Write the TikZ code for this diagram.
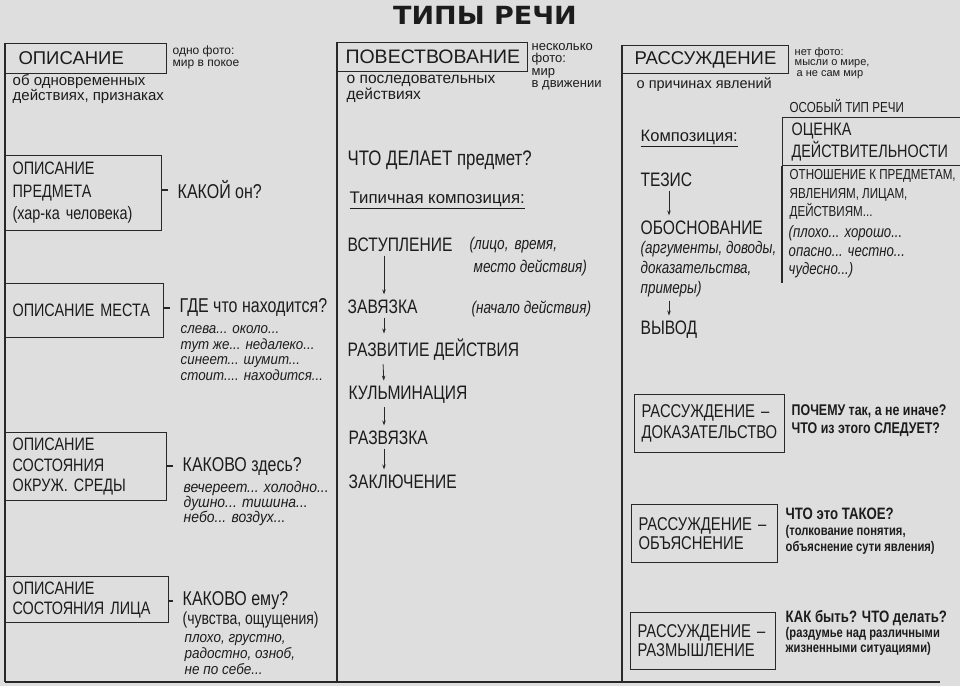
\documentclass[tikz,border=0pt]{standalone}
\usepackage{fontspec}
\setmainfont{Liberation Sans}
\newfontfamily\cnd{Liberation Sans}[FakeStretch=0.8]
\newfontfamily\cni{Liberation Sans}[FakeStretch=0.9]
\newfontfamily\ttlfont{DejaVu Sans}[FakeStretch=1.08]
\usetikzlibrary{arrows.meta,calc}
\definecolor{bg}{RGB}{222,222,222}
\definecolor{ink}{RGB}{28,28,28}
\definecolor{ln}{RGB}{40,40,40}
\begin{document}
\begin{tikzpicture}[x=1pt,y=-1pt,
  every node/.style={text=ink, inner sep=1.5pt},
  frame/.style={draw=ln, line width=1.1pt},
  hbox/.style={frame, anchor=north west, inner ysep=0pt, align=left,
    font=\fontsize{18.5}{20}\selectfont},
  sbox/.style={frame, anchor=north west, inner ysep=0pt, align=left,
    font=\cnd\fontsize{18}{22}\selectfont},
  sm/.style={anchor=west, align=left, font=\fontsize{15}{12.5}\selectfont},
  qq/.style={anchor=west, align=left, font=\cnd\fontsize{20}{21}\selectfont},
  itl/.style={anchor=west, align=left, font=\cni\itshape\fontsize{16}{15.5}\selectfont},
  step1/.style={anchor=west, font=\cnd\fontsize{19.5}{22}\selectfont},
  note/.style={anchor=west, align=left, font=\cnd\itshape\fontsize{17}{23}\selectfont},
  comp/.style={anchor=west, font=\fontsize{16.5}{18}\selectfont},
  rq/.style={anchor=west, align=left, font=\cnd\bfseries\fontsize{14}{18}\selectfont},
  arr/.style={draw=ln, line width=0.8pt, -{Stealth[length=5pt,width=3.5pt]}, shorten <=2pt, shorten >=4pt},
  solidl/.style={draw=ln, line width=1.1pt},
  dashto/.style={solidl, shorten >=8pt}
]
\fill[bg] (0,0) rectangle (960,686);
\useasboundingbox (0,0) rectangle (960,686);

% title
\node[font=\ttlfont\bfseries\fontsize{25}{26}\selectfont] (title) at (485,15) {ТИПЫ РЕЧИ};

% ---------- column 1 ----------
\node[hbox, text width=135pt, inner xsep=13pt, minimum height=30pt] (h1) at (5,43) {ОПИСАНИЕ};
\node[sm, font=\fontsize{12}{11.5}\selectfont] (t1a) at (171,57.5) {одно фото:\\мир в покое};
\node[sm] (t1b) at (11,89) {об одновременных\\действиях, признаках};

\node[sbox, text width=142pt, inner xsep=7pt, minimum height=75pt, font=\cnd\fontsize{18}{22.5}\selectfont] (A) at (5,155) {ОПИСАНИЕ\\ПРЕДМЕТА\\(хар-ка человека)};
\node[qq] (qA) at (176,190) {КАКОЙ он?};
\draw[dashto] (qA.west -| A.east) -- (qA.west);

\node[sbox, text width=144pt, inner xsep=7pt, minimum height=54pt] (B) at (5,283) {ОПИСАНИЕ МЕСТА};
\node[qq] (qB) at (178,308) {ГДЕ что находится?};
\draw[dashto] (qB.west -| B.east) -- (qB.west);
\node[itl, font=\cni\itshape\fontsize{14.8}{15.5}\selectfont] (iB) at (179,353) {слева... около...\\тут же... недалеко...\\синеет... шумит...\\стоит.... находится...};

\node[sbox, text width=147pt, inner xsep=7pt, minimum height=68pt, font=\cnd\fontsize{18}{20.5}\selectfont] (C) at (5,432) {ОПИСАНИЕ\\СОСТОЯНИЯ\\ОКРУЖ. СРЕДЫ};
\node[qq] (qC) at (181,466) {КАКОВО здесь?};
\draw[dashto] (qC.west -| C.east) -- (qC.west);
\node[itl, font=\cni\itshape\fontsize{15.5}{15}\selectfont] (iC) at (182,503) {вечереет... холодно...\\душно... тишина...\\небо... воздух...};

\node[sbox, text width=149pt, inner xsep=7pt, minimum height=46pt, font=\cnd\fontsize{18}{20}\selectfont] (D) at (5,576) {ОПИСАНИЕ\\СОСТОЯНИЯ ЛИЦА};
\node[qq] (qD) at (181,601) {КАКОВО ему?};
\draw[dashto] (qD.west -| D.east) -- (qD.west);
\node[qq, font=\cnd\fontsize{17.5}{17}\selectfont] (pD) at (181,620) {(чувства, ощущения)};
\node[itl, font=\cni\itshape\fontsize{15}{16}\selectfont] (iD) at (183,655) {плохо, грустно,\\радостно, озноб,\\не по себе...};

% ---------- column 2 ----------
\node[hbox, text width=174pt, inner xsep=8pt, minimum height=29pt, font=\fontsize{19.5}{20}\selectfont] (h2) at (337,42) {ПОВЕСТВОВАНИЕ};
\node[sm, font=\fontsize{13}{12.5}\selectfont] (t2a) at (530,67) {несколько\\фото:\\мир\\в движении};
\node[sm, font=\fontsize{15.5}{12.5}\selectfont] (t2b) at (345,89) {о последовательных\\действиях};

\node[anchor=west, font=\cnd\fontsize{21}{22}\selectfont] (m0) at (346,160) {ЧТО ДЕЛАЕТ предмет?};
\node[comp, font=\fontsize{16.8}{18}\selectfont] (m1) at (348,200) {\underline{Типичная композиция:}};
\node[step1] (m2) at (346,245) {ВСТУПЛЕНИЕ};
\node[note] (m2c) at (468,256.5) {(лицо,\hspace{6pt}время,\\\hspace*{4pt}место действия)};
\node[step1] (m3) at (346,307) {ЗАВЯЗКА};
\node[note] (m3c) at (470,309) {(начало действия)};
\node[step1] (m4) at (346,350) {РАЗВИТИЕ ДЕЙСТВИЯ};
\node[step1] (m5) at (347,395) {КУЛЬМИНАЦИЯ};
\node[step1] (m6) at (347,438) {РАЗВЯЗКА};
\node[step1] (m7) at (347,482) {ЗАКЛЮЧЕНИЕ};
\draw[arr] ([xshift=38pt]m2.south west) -- ([xshift=38pt]m3.north west);
\draw[arr] ([xshift=38pt]m3.south west) -- ([xshift=38pt]m4.north west);
\draw[arr] ([xshift=37pt]m4.south west) -- ([xshift=37pt]m5.north west);
\draw[arr] ([xshift=37pt]m5.south west) -- ([xshift=37pt]m6.north west);
\draw[arr] ([xshift=37pt]m6.south west) -- ([xshift=37pt]m7.north west);

% ---------- column 3 ----------
\node[hbox, text width=142pt, inner xsep=12pt, minimum height=28pt] (h3) at (622,45) {РАССУЖДЕНИЕ};
\node[sm, font=\fontsize{11}{10.5}\selectfont] (t3a) at (793,63) {нет фото:\\мысли о мире,\\\hspace*{2pt}а не сам мир};
\node[sm, font=\fontsize{14.5}{12}\selectfont] (t3b) at (635,85) {о причинах явлений};

\node[comp] (r0) at (639,138) {\underline{Композиция:}};
\node[step1] (r1) at (639,180) {ТЕЗИС};
\node[step1] (r2) at (639,228) {ОБОСНОВАНИЕ};
\node[note, font=\cnd\itshape\fontsize{16.8}{20}\selectfont] (r2c) at (639,269) {(аргументы, доводы,\\доказательства,\\примеры)};
\node[step1] (r3) at (639,330) {ВЫВОД};
\draw[arr] ([xshift=30pt]r1.south west) -- ([xshift=30pt]r2.north west);
\draw[arr] ([xshift=30pt]r2c.south west) -- ([xshift=30pt]r3.north west);

\node[anchor=west, font=\cnd\fontsize{14.5}{15}\selectfont] (os) at (788,106) {ОСОБЫЙ ТИП РЕЧИ};
\node[sbox, text width=162pt, inner xsep=9pt, minimum height=48pt, font=\cnd\fontsize{18}{22}\selectfont] (O) at (782,117) {ОЦЕНКА\\ДЕЙСТВИТЕЛЬНОСТИ};
\coordinate (oe) at (782,283);
\draw[solidl] (O.south west) -- (oe);
\node[anchor=west, align=left, font=\cnd\fontsize{14.5}{18.5}\selectfont] (o1) at (788,194.5) {ОТНОШЕНИЕ К ПРЕДМЕТАМ,\\ЯВЛЕНИЯМ, ЛИЦАМ,\\ДЕЙСТВИЯМ...};
\node[itl, font=\cnd\itshape\fontsize{16.5}{18.5}\selectfont] (o2) at (787,252) {(плохо... хорошо...\\опасно... честно...\\чудесно...)};

\node[sbox, text width=136pt, inner xsep=7pt, minimum height=58pt, font=\cnd\fontsize{18.5}{21}\selectfont] (P1) at (634,394) {РАССУЖДЕНИЕ –\\ДОКАЗАТЕЛЬСТВО};
\node[rq, font=\cnd\bfseries\fontsize{15.5}{18}\selectfont] (p1t) at (790,421) {ПОЧЕМУ так, а не иначе?\\ЧТО из этого СЛЕДУЕТ?};
\node[sbox, text width=132pt, inner xsep=7pt, minimum height=58pt, font=\cnd\fontsize{18.5}{19}\selectfont] (P2) at (631,504) {РАССУЖДЕНИЕ –\\ОБЪЯСНЕНИЕ};
\node[rq, font=\cnd\bfseries\fontsize{14}{16}\selectfont] (p2t) at (784,531) {{\fontsize{16.5}{16}\selectfont ЧТО это ТАКОЕ?}\\(толкование понятия,\\объяснение сути явления)};
\node[sbox, text width=131pt, inner xsep=7pt, minimum height=57pt, font=\cnd\fontsize{18.5}{19}\selectfont] (P3) at (630,612) {РАССУЖДЕНИЕ –\\РАЗМЫШЛЕНИЕ};
\node[rq, font=\cnd\bfseries\fontsize{14}{15}\selectfont] (p3t) at (784,633) {{\fontsize{16.5}{15}\selectfont КАК быть? ЧТО делать?}\\(раздумье над различными\\жизненными ситуациями)};

% ---------- column lines ----------
\coordinate (bl) at (5,682);
\coordinate (bm) at (337,682);
\coordinate (br) at (622,682);
\coordinate (be) at (940,682);
\draw[solidl] (h1.north west) -- (bl);
\draw[solidl] (h2.north west) -- (bm);
\draw[solidl] (h3.north west) -- (br);
\draw[solidl] (bl) -- (be);
\end{tikzpicture}
\end{document}
